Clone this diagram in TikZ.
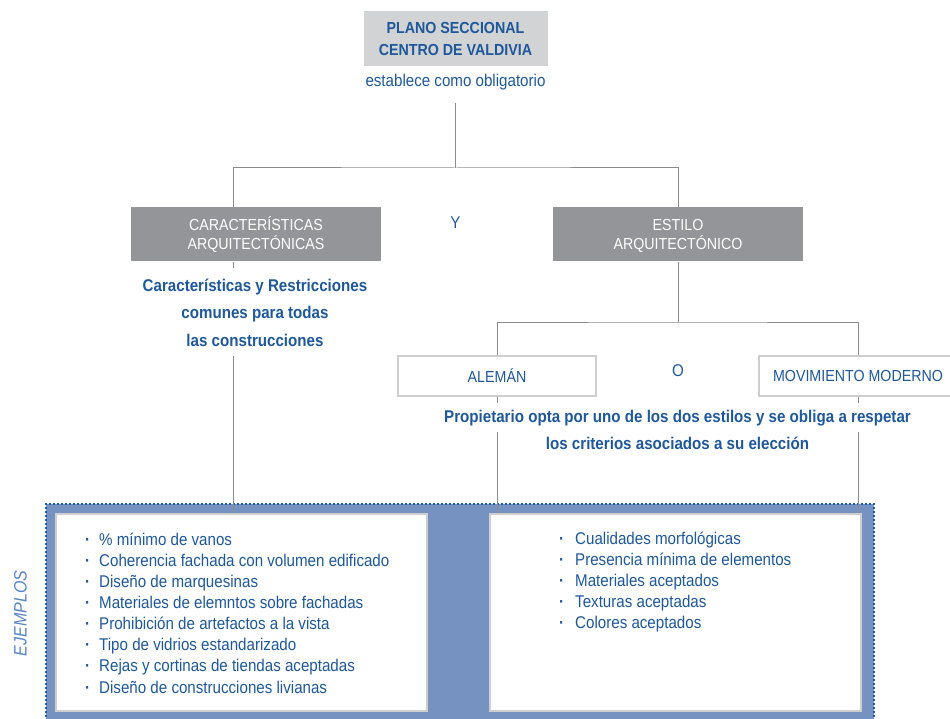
\documentclass[tikz,border=0pt]{standalone}
\usepackage{fontspec}
\setmainfont{Liberation Sans}[FakeStretch=0.89]
\definecolor{planblue}{RGB}{30,88,155}
\definecolor{ejblue}{RGB}{86,134,196}
\definecolor{panelblue}{RGB}{118,146,193}
\definecolor{dotblue}{RGB}{30,95,170}
\definecolor{lightgrey}{RGB}{209,211,212}
\definecolor{midgrey}{RGB}{147,149,152}
\definecolor{boxgrey}{RGB}{206,206,206}
\definecolor{linkgrey}{RGB}{140,140,140}

\begin{document}
\begin{tikzpicture}[x=1pt,y=-1pt,inner sep=0]
\tikzstyle{link}=[draw=linkgrey,line width=1pt]
\tikzstyle{dotline}=[draw=dotblue,line width=2pt,dash pattern=on 2pt off 2pt]
\tikzstyle{headbox}=[fill=lightgrey,text=planblue,font=\bfseries\fontsize{16}{22}\selectfont,align=center,minimum width=184pt,minimum height=55pt]
\tikzstyle{greybox}=[fill=midgrey,text=white,font=\fontsize{16}{19}\selectfont,align=center,minimum width=250pt,minimum height=54pt]
\tikzstyle{optbox}=[draw=boxgrey,line width=1.5pt,fill=white,text=planblue,font=\fontsize{16}{19}\selectfont,minimum width=198pt,minimum height=40pt]
\tikzstyle{note}=[text=planblue,font=\bfseries\fontsize{17}{27.5}\selectfont,align=center,anchor=base]
\tikzstyle{bluetext}=[text=planblue,font=\fontsize{17}{20}\selectfont,anchor=base]
\tikzstyle{listbox}=[draw=boxgrey,line width=2pt,fill=white,minimum width=371pt,minimum height=197pt]
\tikzstyle{item}=[text=planblue,font=\fontsize{17}{20}\selectfont,anchor=base west]
\useasboundingbox (0,0) rectangle (950,719);
\fill[panelblue] (46,504) rectangle (874,725);
\draw[dotline] (46,725) -- (46,504) -- (874,504) -- (874,725);
\node[headbox] (plano) at (455.5,38.5) {PLANO SECCIONAL\\CENTRO DE VALDIVIA};
\node[bluetext,inner ysep=12pt] (estab) at (455.5,87) {establece como obligatorio};
\node[greybox] (carac) at (256,234.5) {CARACTERÍSTICAS\\ARQUITECTÓNICAS};
\node[greybox] (estilo) at (678,234.5) {\vphantom{Í}ESTILO\\ARQUITECTÓNICO};
\node[bluetext] (y) at (455.5,229) {Y};
\node[note,inner ysep=10pt] (comunes) at (255,346) {Características y Restricciones\\comunes para todas\\las construcciones};
\node[optbox] (aleman) at (497,376) {ALEMÁN};
\node[optbox] (moderno) at (858,376) {MOVIMIENTO MODERNO};
\node[bluetext] (o) at (678,376) {O};
\node[note,inner ysep=6pt] (propA) at (677.5,422) {Propietario opta por uno de los dos estilos y se obliga a respetar};
\node[note,inner ysep=6pt] (propB) at (677.5,449) {los criterios asociados a su elección};
\node[listbox] (lbox) at (241.5,612.5) {};
\node[listbox] (rbox) at (675.5,612.5) {};
\node[text=ejblue,font=\itshape\fontsize{18}{18}\selectfont,rotate=90] (ejemplos) at (20.5,613.5) {EJEMPLOS};
\foreach \t [count=\i] in {\% mínimo de vanos,Coherencia fachada con volumen edificado,Diseño de marquesinas,Materiales de elemntos sobre fachadas,Prohibición de artefactos a la vista,Tipo de vidrios estandarizado,Rejas y cortinas de tiendas aceptadas,Diseño de construcciones livianas}
  \node[item] (lt\i) at (85,{545+21.15*(\i-1)}) {\makebox[14pt][l]{\textbf{·}}\t};
\foreach \t [count=\i] in {Cualidades morfológicas,Presencia mínima de elementos,Materiales aceptados,Texturas aceptadas,Colores aceptados}
  \node[item] (rt\i) at (559,{544+21.15*(\i-1)}) {\makebox[16pt][l]{\textbf{·}}\t};
\coordinate (tee) at (455.5,168);
\coordinate (lx) at (233,168);
\coordinate (fork) at (678,322);
\draw[link] (estab.south) -- (tee);
\draw[link] (carac.north -| lx) |- (tee) -| (estilo.north);
\draw[link] (carac.south -| lx) -- (comunes.north -| lx);
\draw[link] (comunes.south -| lx) -- (lbox.north -| lx);
\draw[link] (estilo.south) -- (fork);
\draw[link] (aleman.north) |- (fork) -| (moderno.north);
\draw[link] (aleman.south) -- (propA.north -| aleman.south);
\draw[link] (moderno.south) -- (propA.north -| moderno.south);
\draw[link] (propA.south -| aleman.south) -- (rbox.north -| aleman.south);
\draw[link] (propA.south -| moderno.south) -- (rbox.north -| moderno.south);
\end{tikzpicture}
\end{document}
